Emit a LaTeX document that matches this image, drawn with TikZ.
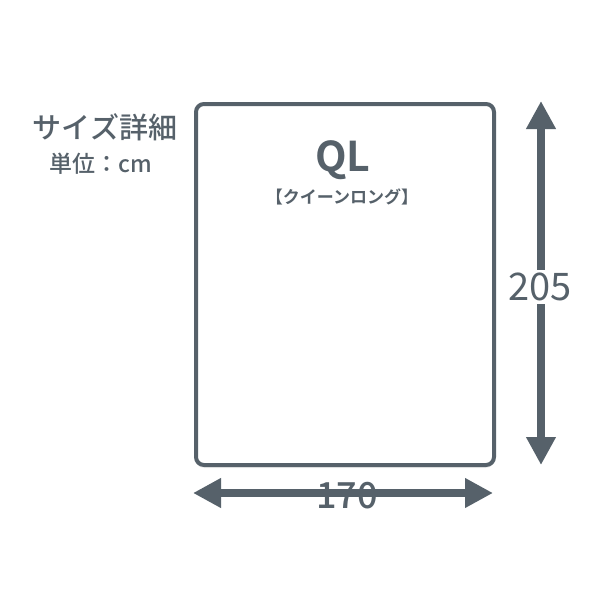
\documentclass[tikz,border=0pt]{standalone}
\usepackage{fontspec}
\newfontfamily\jp{Noto Sans CJK JP Medium}
\newfontfamily\jpr{Noto Sans CJK JP}
\newfontfamily\jpb{Noto Sans CJK JP Bold}
\usetikzlibrary{arrows.meta,shadows}
\definecolor{slate}{HTML}{56616A}
\tikzset{
  frame/.style={draw=slate, line width=4pt, rounded corners=8pt, fill=white,
    drop shadow={opacity=0.12, shadow xshift=0pt, shadow yshift=-3pt}},
  dimarrow/.style={draw=slate, line width=8pt,
    {Triangle[width=28pt,length=28pt]}-{Triangle[width=28pt,length=28pt]}},
  txt/.style={text=slate, inner sep=0pt}
}
\begin{document}
\begin{tikzpicture}[x=1pt,y=-1pt]
\useasboundingbox (0,0) rectangle (600,600);
\fill[white] (0,0) rectangle (600,600);
\node[frame, minimum width=298pt, minimum height=361pt, anchor=north west] (bed) at (194,102) {};
\node[txt, font=\jp\fontsize{29}{29}\selectfont] (title) at (105,127) {サイズ詳細};
\node[txt, font=\jp\fontsize{23}{23}\selectfont] (unit) at (101,164) {単位：cm};
\node[txt, font=\jpb\fontsize{41}{41}\selectfont] (ql) at (343,160) {QL};
\node[txt, font=\jpb\fontsize{17}{17}\selectfont] (kind) at (342,197) {【クイーンロング】};
\coordinate (vt) at (541,101);
\coordinate (vb) at (541,465);
\draw[dimarrow] (vt) -- (vb);
\node[txt, fill=white, inner xsep=1pt, inner ysep=3pt, font=\jpr\fontsize{38}{38}\selectfont] (h) at (540,287) {205};
\coordinate (hl) at (193,493);
\coordinate (hr) at (493,493);
\draw[dimarrow] (hl) -- (hr);
\node[txt, font=\jp\fontsize{36}{36}\selectfont] (w) at (347,496) {170};
\end{tikzpicture}
\end{document}
